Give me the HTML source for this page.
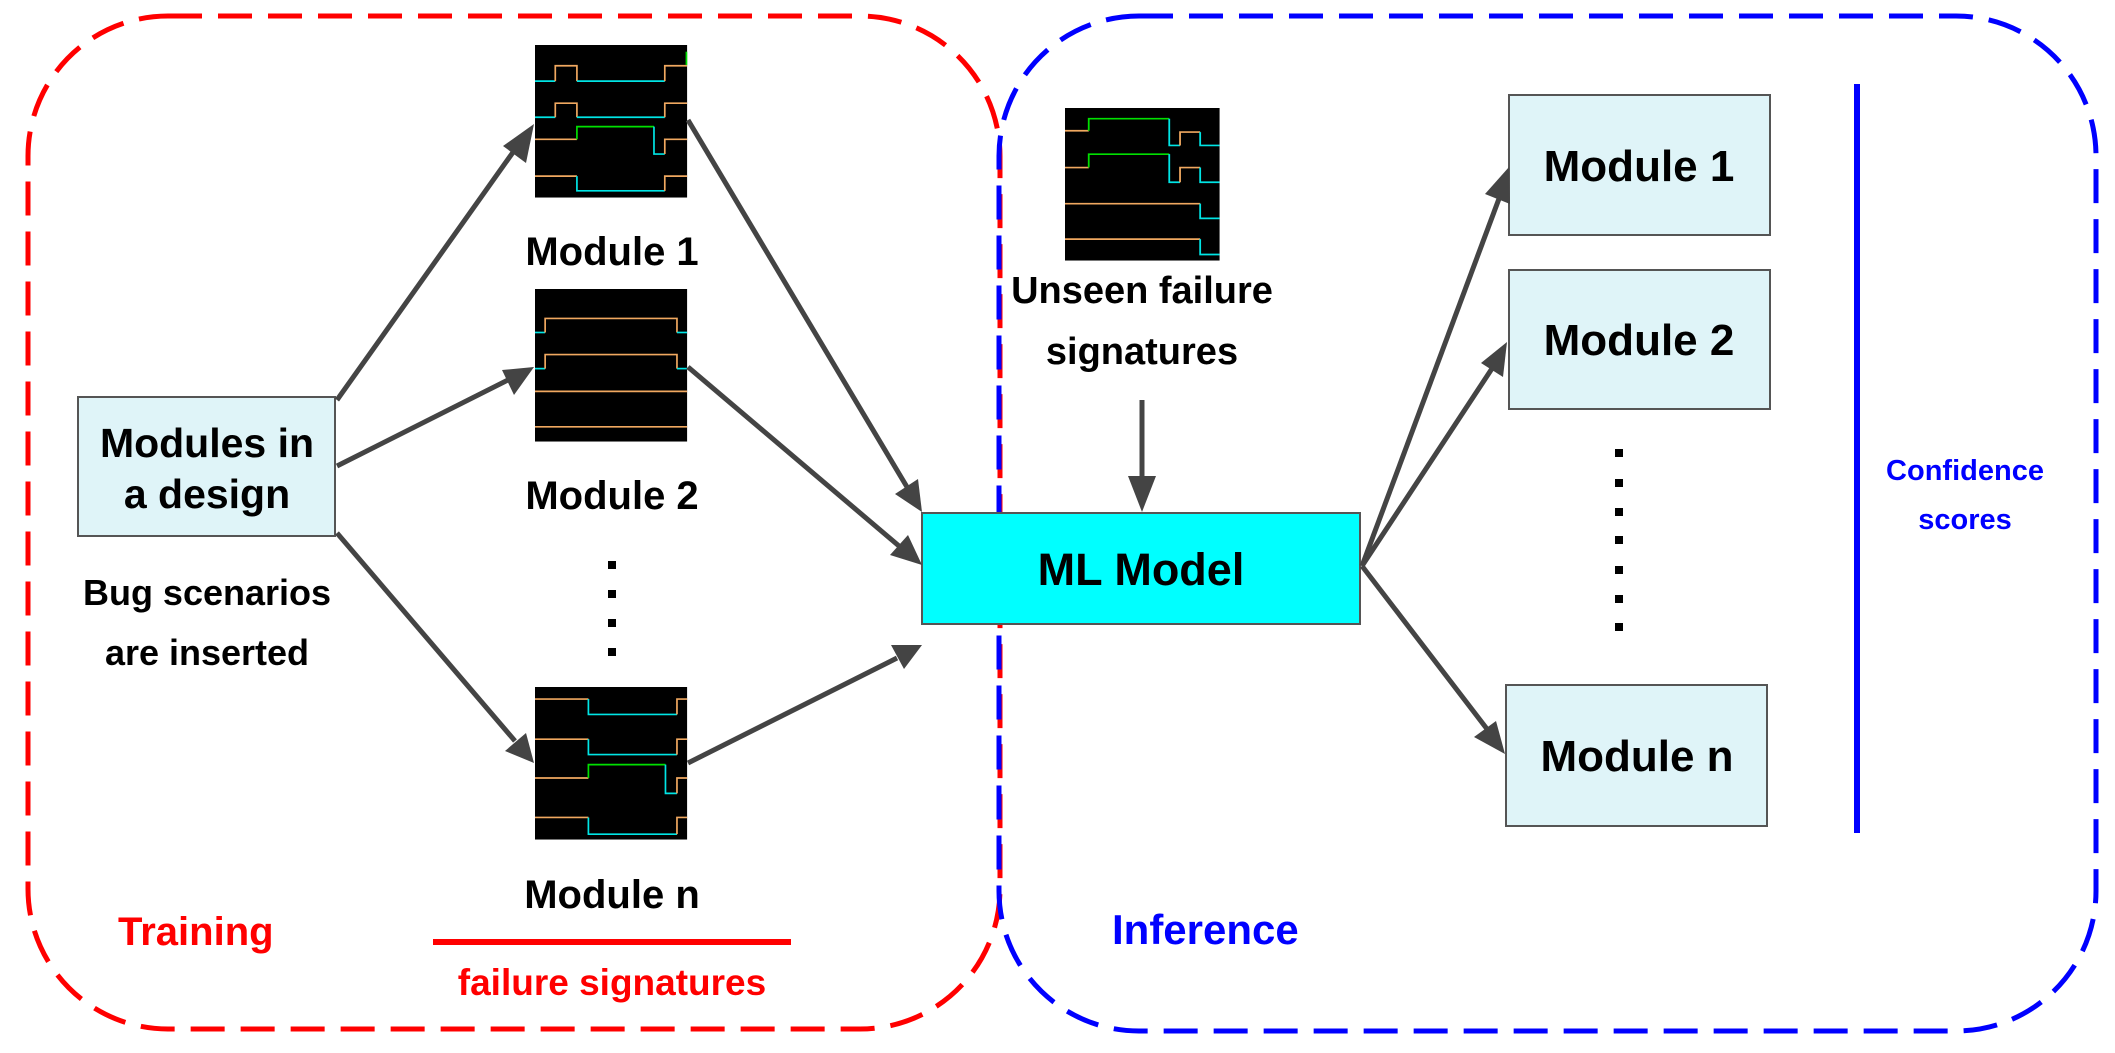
<!DOCTYPE html>
<html><head><meta charset="utf-8"><style>
html,body{margin:0;padding:0;background:#fff;}
svg text{font-family:"Liberation Sans",sans-serif;font-weight:bold;}
</style></head><body>
<svg width="2115" height="1048" viewBox="0 0 2115 1048" xmlns="http://www.w3.org/2000/svg">
<defs>
<marker id="ah" markerWidth="10" markerHeight="8" refX="9" refY="4" orient="auto" markerUnits="userSpaceOnUse" viewBox="0 0 10 8" style="overflow:visible">
</marker>
<g id="wfbg"></g>
</defs>
<!-- dashed regions -->
<rect x="28" y="16" width="972" height="1013" rx="140" ry="140" fill="none" stroke="#f00" stroke-width="5" stroke-dasharray="34,16"/>
<rect x="999" y="16" width="1097" height="1015" rx="140" ry="140" fill="none" stroke="#00f" stroke-width="5" stroke-dasharray="34,16"/>

<!-- Modules in a design -->
<rect x="78" y="397" width="257" height="139" fill="#dff4f8" stroke="#555" stroke-width="2"/>
<text x="207" y="457" font-size="41" text-anchor="middle">Modules in</text>
<text x="207" y="508" font-size="41" text-anchor="middle">a design</text>
<text x="207" y="605" font-size="36" text-anchor="middle">Bug scenarios</text>
<text x="207" y="665" font-size="36" text-anchor="middle">are inserted</text>

<!-- waveform 1 -->
<g transform="translate(535,45) scale(0.676,0.669)">
<rect width="225" height="228" fill="#000"/>
<g fill="none" stroke-width="2.5">
<polyline stroke="#00e5e5" points="0,54 30,54"/><polyline stroke="#f0a860" points="30,54 30,31 62,31 62,54"/><polyline stroke="#00e5e5" points="62,54 192,54"/><polyline stroke="#f0a860" points="192,54 192,31 225,31"/>
<polyline stroke="#00e5e5" points="0,108 30,108"/><polyline stroke="#f0a860" points="30,108 30,87 62,87 62,108"/><polyline stroke="#00e5e5" points="62,108 192,108"/><polyline stroke="#f0a860" points="192,108 192,87 225,87"/>
<polyline stroke="#f0a860" points="0,141 62,141"/><polyline stroke="#00e000" points="62,141 62,122 176,122"/><polyline stroke="#00e5e5" points="176,122 176,163 192,163"/><polyline stroke="#f0a860" points="192,163 192,141 225,141"/>
<polyline stroke="#f0a860" points="0,196 62,196"/><polyline stroke="#00e5e5" points="62,196 62,218 192,218"/><polyline stroke="#f0a860" points="192,218 192,196 225,196"/>
<polyline stroke="#00e000" points="224,10 224,30 M224,70 224,90"/>
</g></g>

<!-- waveform 2 -->
<g transform="translate(535,289) scale(0.676,0.669)">
<rect width="225" height="228" fill="#000"/>
<g fill="none" stroke-width="2.5">
<polyline stroke="#00e5e5" points="0,65 15,65"/><polyline stroke="#f0a860" points="15,65 15,44 210,44 210,65"/><polyline stroke="#00e5e5" points="210,65 225,65"/>
<polyline stroke="#00e5e5" points="0,119 15,119"/><polyline stroke="#f0a860" points="15,119 15,98 210,98 210,119"/><polyline stroke="#00e5e5" points="210,119 225,119"/>
<polyline stroke="#f0a860" points="0,153 225,153"/>
<polyline stroke="#f0a860" points="0,206 225,206"/>
</g></g>

<!-- waveform n -->
<g transform="translate(535,687) scale(0.676,0.669)">
<rect width="225" height="228" fill="#000"/>
<g fill="none" stroke-width="2.5">
<polyline stroke="#f0a860" points="0,18 79,18"/><polyline stroke="#00e5e5" points="79,18 79,41 210,41"/><polyline stroke="#f0a860" points="210,41 210,18 225,18"/>
<polyline stroke="#f0a860" points="0,78 79,78"/><polyline stroke="#00e5e5" points="79,78 79,101 210,101"/><polyline stroke="#f0a860" points="210,101 210,78 225,78"/>
<polyline stroke="#f0a860" points="0,136 79,136"/><polyline stroke="#00e000" points="79,136 79,116 193,116"/><polyline stroke="#00e5e5" points="193,116 193,159 210,159"/><polyline stroke="#f0a860" points="210,159 210,136 225,136"/>
<polyline stroke="#f0a860" points="0,195 79,195"/><polyline stroke="#00e5e5" points="79,195 79,220 210,220"/><polyline stroke="#f0a860" points="210,220 210,195 225,195"/>
</g></g>

<text x="612" y="265" font-size="40" text-anchor="middle">Module 1</text>
<text x="612" y="509" font-size="40" text-anchor="middle">Module 2</text>
<text x="612" y="908" font-size="40" text-anchor="middle">Module n</text>
<g fill="#000"><rect x="608" y="561" width="8" height="8"/><rect x="608" y="590" width="8" height="8"/><rect x="608" y="619" width="8" height="8"/><rect x="608" y="648" width="8" height="8"/></g>

<text x="118" y="945" font-size="40" fill="#f00">Training</text>
<rect x="433" y="939" width="358" height="6" fill="#f00"/>
<text x="612" y="995" font-size="37" text-anchor="middle" fill="#f00">failure signatures</text>

<!-- unseen waveform -->
<g transform="translate(1065,108) scale(0.719,0.669)">
<rect width="215" height="228" fill="#000"/>
<g fill="none" stroke-width="2.5">
<polyline stroke="#f0a860" points="0,34 33,34"/><polyline stroke="#00e000" points="33,34 33,16 145,16"/><polyline stroke="#00e5e5" points="145,16 145,56 160,56"/><polyline stroke="#f0a860" points="160,56 160,36 188,36"/><polyline stroke="#00e5e5" points="188,36 188,56 215,56"/>
<polyline stroke="#f0a860" points="0,89 33,89"/><polyline stroke="#00e000" points="33,89 33,69 145,69"/><polyline stroke="#00e5e5" points="145,69 145,111 160,111"/><polyline stroke="#f0a860" points="160,111 160,89 188,89"/><polyline stroke="#00e5e5" points="188,89 188,111 215,111"/>
<polyline stroke="#f0a860" points="0,143 188,143"/><polyline stroke="#00e5e5" points="188,143 188,165 215,165"/>
<polyline stroke="#f0a860" points="0,196 188,196"/><polyline stroke="#00e5e5" points="188,196 188,219 215,219"/>
</g></g>
<text x="1142" y="303" font-size="38" text-anchor="middle">Unseen failure</text>
<text x="1142" y="364" font-size="38" text-anchor="middle">signatures</text>

<!-- ML model -->
<rect x="922" y="513" width="438" height="111" fill="#00ffff" stroke="#555" stroke-width="2"/>
<text x="1141" y="585" font-size="45" text-anchor="middle">ML Model</text>

<!-- right modules -->
<g stroke="#555" stroke-width="2" fill="#dff4f8">
<rect x="1509" y="95" width="261" height="140"/>
<rect x="1509" y="270" width="261" height="139"/>
<rect x="1506" y="685" width="261" height="141"/>
</g>
<text x="1639" y="181" font-size="44" text-anchor="middle">Module 1</text>
<text x="1639" y="355" font-size="44" text-anchor="middle">Module 2</text>
<text x="1637" y="771" font-size="44" text-anchor="middle">Module n</text>
<g fill="#000"><rect x="1615" y="449" width="8" height="8"/><rect x="1615" y="479" width="8" height="8"/><rect x="1615" y="508" width="8" height="8"/><rect x="1615" y="536" width="8" height="8"/><rect x="1615" y="566" width="8" height="8"/><rect x="1615" y="595" width="8" height="8"/><rect x="1615" y="623" width="8" height="8"/></g>

<rect x="1854" y="84" width="6" height="749" fill="#00f"/>
<text x="1965" y="480" font-size="29" text-anchor="middle" fill="#00f">Confidence</text>
<text x="1965" y="529" font-size="29" text-anchor="middle" fill="#00f">scores</text>
<text x="1112" y="944" font-size="42" fill="#00f">Inference</text>

<!-- arrows -->
<g stroke="#444" stroke-width="5" fill="#444">
<line x1="337" y1="400" x2="516" y2="148"/>
<line x1="337" y1="466" x2="508" y2="380"/>
<line x1="337" y1="533" x2="515" y2="741"/>
<line x1="688" y1="120" x2="907" y2="487"/>
<line x1="688" y1="367" x2="899" y2="546"/>
<line x1="688" y1="763" x2="897" y2="658"/>
<line x1="1142" y1="400" x2="1142" y2="484"/>
<line x1="1362" y1="566" x2="1500" y2="196"/>
<line x1="1362" y1="566" x2="1493" y2="367"/>
<line x1="1362" y1="566" x2="1487" y2="729"/>
</g>
<g fill="#444">
<polygon points="534,124 526,163 503,146"/>
<polygon points="534,367 514,395 502,370"/>
<polygon points="534,763 505,751 526,733"/>
<polygon points="922,512 895,494 918,479"/>
<polygon points="922,565 890,555 908,535"/>
<polygon points="922,645 904,669 891,645"/>
<polygon points="1142,512 1128,476 1156,476"/>
<polygon points="1509,167 1510,204 1485,194"/>
<polygon points="1507,342 1503,377 1481,363"/>
<polygon points="1505,754 1474,737 1496,721"/>
</g>
</svg>
</body></html>
